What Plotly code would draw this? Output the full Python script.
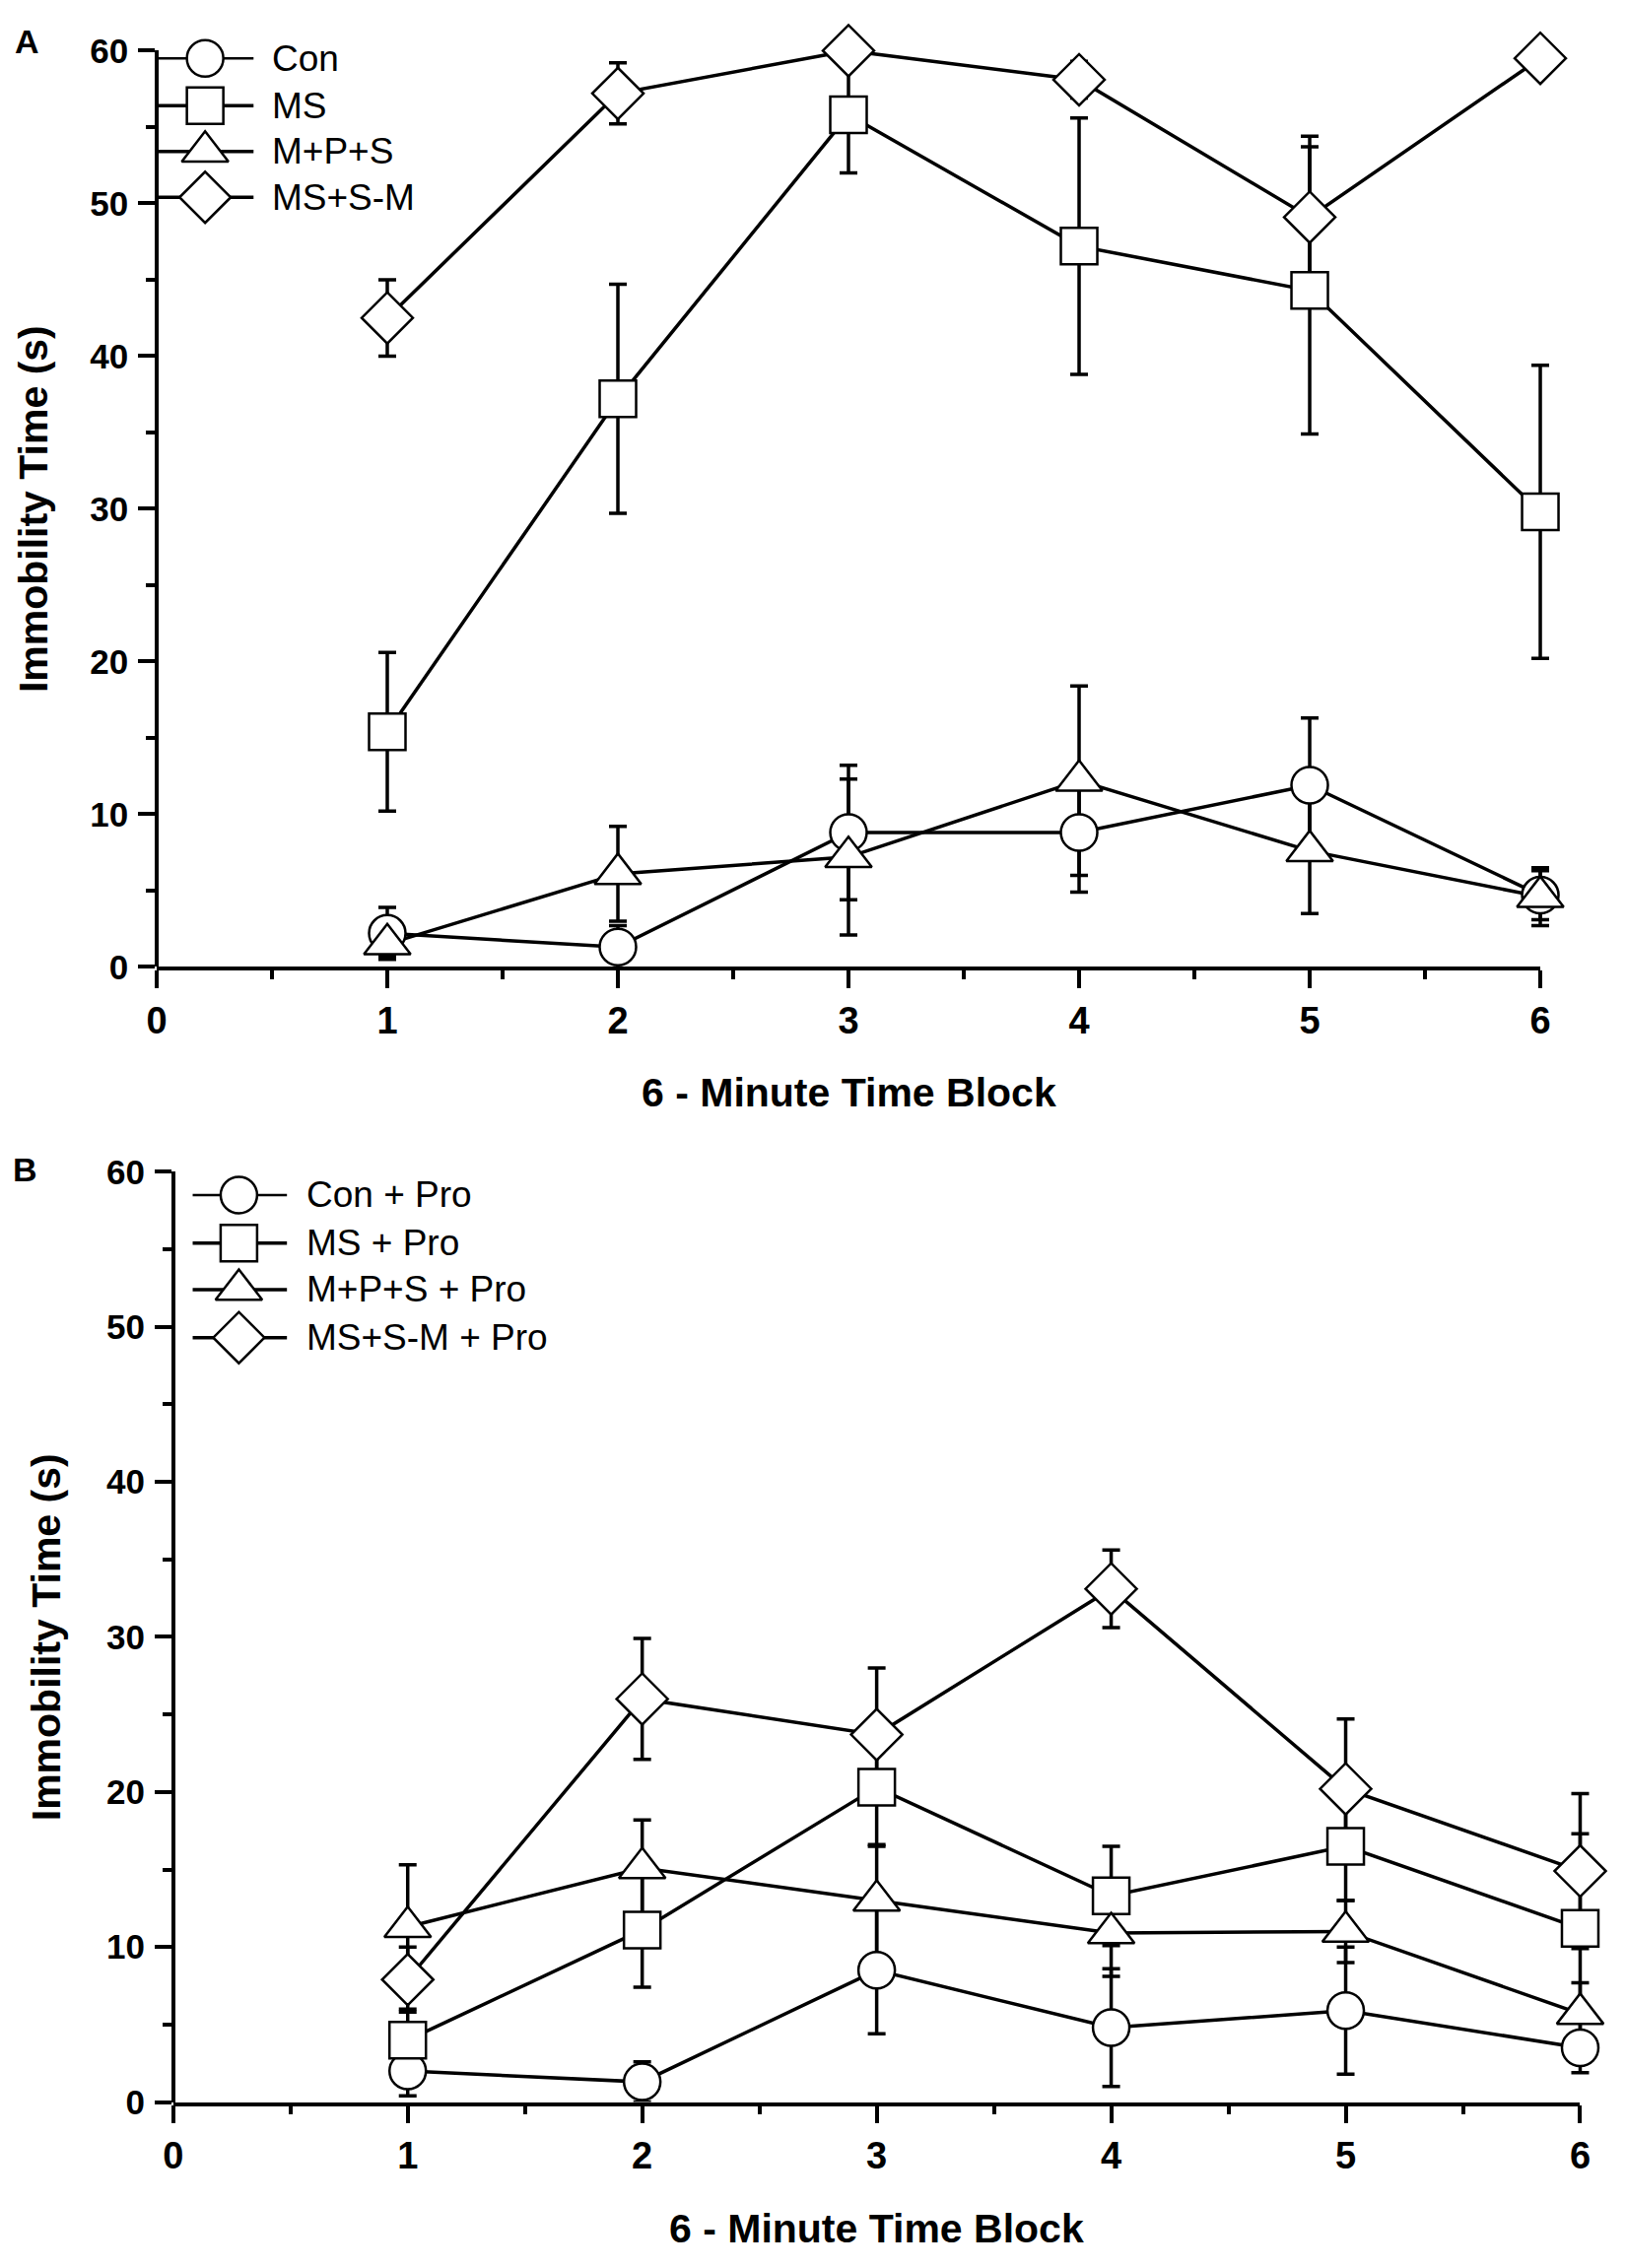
import plotly.graph_objects as go

blocks = [1, 2, 3, 4, 5, 6]

# panel A (no propranolol)
names_a = ["Con", "MS", "M+P+S", "MS+S-M"]
con_a = [2.2, 1.3, 8.8, 8.8, 11.9, 4.7]
con_a_err = [1.7, 1.4, 4.4, 3.9, 4.4, 1.6]
ms_a = [15.4, 37.2, 55.8, 47.2, 44.3, 29.8]
ms_a_err = [5.2, 7.5, 3.8, 8.4, 9.4, 9.6]
mps_a = [1.5, 6.1, 7.2, 12.2, 7.6, 4.6]
mps_a_err = [0.8, 3.1, 5.1, 6.2, 4.1, 1.9]
mssm_a = [42.5, 57.2, 60.0, 58.1, 49.1, 59.5]
mssm_a_err = [2.5, 2.0, 1.0, 1.2, 5.3, 1.0]

# panel B (+ Pro)
names_b = ["Con + Pro", "MS + Pro", "M+P+S + Pro", "MS+S-M + Pro"]
con_b = [2.0, 1.3, 8.5, 4.8, 5.9, 3.5]
con_b_err = [1.6, 1.3, 4.1, 3.8, 4.1, 1.6]
ms_b = [4.0, 11.1, 20.3, 13.3, 16.5, 11.2]
ms_b_err = [2.0, 3.7, 3.7, 3.2, 3.5, 6.1]
mps_b = [11.3, 15.1, 13.0, 10.9, 11.0, 5.7]
mps_b_err = [4.0, 3.1, 3.5, 2.8, 2.0, 2.0]
mssm_b = [7.9, 26.0, 23.7, 33.1, 20.2, 14.9]
mssm_b_err = [2.1, 3.9, 4.3, 2.5, 4.5, 5.0]

x_ticks = [0, 1, 2, 3, 4, 5, 6]
y_ticks = [0, 10, 20, 30, 40, 50, 60]

W, H = 1650, 2302
symbols = ["circle", "square", "triangle-up", "diamond"]
sizes = [37, 37, 41, 40]
LW = 3.5
MLW = 2.5
PAD = 30  # extra px around the data area so end error bars are not clipped
FONT = "Liberation Sans, Arial, sans-serif"

fig = go.Figure()


def px_x(p):
    return p / W


def px_y(p):
    return 1 - p / H


def add_panel(suffix, shown, names, means, errs, leg_rows, leg_line, leg_mark, leg_text):
    xa = "x" + suffix
    ya = "y" + suffix
    # empty trace so the drawn x axis gets rendered
    fig.add_trace(go.Scatter(x=[0, 6], y=[0, 0], mode="markers", xaxis=shown, yaxis=ya,
                             marker=dict(size=1, color="rgba(0,0,0,0)"),
                             showlegend=False, hoverinfo="skip"))
    # error bars at the bottom, then lines, then the open markers on top
    for m, e in zip(means, errs):
        fig.add_trace(go.Scatter(x=blocks, y=m, mode="markers", xaxis=xa, yaxis=ya,
                                 marker=dict(size=1, color="rgba(0,0,0,0)"),
                                 error_y=dict(type="data", array=e, visible=True,
                                              color="black", thickness=3.5, width=9),
                                 showlegend=False, hoverinfo="skip", cliponaxis=False))
    for m in means:
        fig.add_trace(go.Scatter(x=blocks, y=m, mode="lines", xaxis=xa, yaxis=ya,
                                 line=dict(color="black", width=LW),
                                 showlegend=False, hoverinfo="skip", cliponaxis=False))
    for name, m, sym, sz in zip(names, means, symbols, sizes):
        fig.add_trace(go.Scatter(x=blocks, y=m, mode="markers", xaxis=xa, yaxis=ya,
                                 name=name,
                                 marker=dict(symbol=sym, size=sz, color="white",
                                             line=dict(color="black", width=MLW)),
                                 showlegend=False, cliponaxis=False))
    # hand-made legend in the top-left corner
    for name, ry, sym, sz, wid in zip(names, leg_rows, symbols, sizes, [2.5, LW, LW, LW]):
        fig.add_trace(go.Scatter(x=list(leg_line), y=[ry, ry], mode="lines",
                                 xaxis=xa, yaxis=ya, line=dict(color="black", width=wid),
                                 showlegend=False, hoverinfo="skip", cliponaxis=False))
        fig.add_trace(go.Scatter(x=[leg_mark], y=[ry], mode="markers",
                                 xaxis=xa, yaxis=ya,
                                 marker=dict(symbol=sym, size=sz, color="white",
                                             line=dict(color="black", width=MLW)),
                                 showlegend=False, hoverinfo="skip", cliponaxis=False))
        fig.add_annotation(x=leg_text, y=ry, xref=xa, yref=ya, text=name,
                           showarrow=False, xanchor="left", yanchor="middle",
                           font=dict(family=FONT, size=37, color="black"))


add_panel("", "x3", names_a, [con_a, ms_a, mps_a, mssm_a],
          [con_a_err, ms_a_err, mps_a_err, mssm_a_err],
          [59.5, 56.4, 53.4, 50.4], (0.0, 0.42), 0.21, 0.49)
add_panel("2", "x4", names_b, [con_b, ms_b, mps_b, mssm_b],
          [con_b_err, ms_b_err, mps_b_err, mssm_b_err],
          [58.5, 55.4, 52.4, 49.3], (0.083, 0.485), 0.28, 0.56)

x_tick_font = dict(family=FONT, size=38, color="black", weight="bold")
y_tick_font = dict(family=FONT, size=35, color="black", weight="bold")
title_font = dict(family=FONT, size=41, color="black", weight="bold")


def data_x(left, right, anchor):
    # invisible x axis for the traces, a little wider than the drawn one
    pad = PAD * 6 / (right - left)
    return dict(domain=[px_x(left - PAD), px_x(right + PAD)], range=[-pad, 6 + pad],
                anchor=anchor, visible=False, showgrid=False, zeroline=False)


def shown_x(left, right, anchor):
    return dict(domain=[px_x(left), px_x(right)], anchor=anchor, range=[0, 6],
                tickvals=x_ticks,
                showline=True, linecolor="black", linewidth=3.5,
                ticks="outside", ticklen=18, tickwidth=3.5, tickcolor="black",
                minor=dict(dtick=0.5, tick0=0, ticks="outside", ticklen=9,
                           tickwidth=3.5, tickcolor="black"),
                tickfont=x_tick_font, ticklabelstandoff=0,
                showgrid=False, zeroline=False)


def y_axis(top, bottom, left):
    return dict(domain=[px_y(bottom), px_y(top)], anchor="free", position=px_x(left),
                range=[0, 60], tickvals=y_ticks,
                showline=True, linecolor="black", linewidth=3.5,
                ticks="outside", ticklen=17, tickwidth=3.5, tickcolor="black",
                minor=dict(dtick=5, tick0=0, ticks="outside", ticklen=9,
                           tickwidth=3.5, tickcolor="black"),
                tickfont=y_tick_font, ticklabelstandoff=3,
                showgrid=False, zeroline=False)


fig.update_layout(
    autosize=True,
    margin=dict(l=0, r=0, t=0, b=0),
    paper_bgcolor="white", plot_bgcolor="rgba(0,0,0,0)",
    xaxis=data_x(150, 1573, "y"),
    yaxis=y_axis(32, 978, 150),
    xaxis2=data_x(167, 1614, "y2"),
    yaxis2=y_axis(1189.5, 2150, 167),
    xaxis3=shown_x(150, 1573, "y"),
    xaxis4=shown_x(167, 1614, "y2"),
)

# axis titles and panel letters
for x, y, txt, ang in [
    ((150 + 1573) / 2, 1108, "6 - Minute Time Block", 0),
    (24, 505, "Immobility Time (s)", -90),
    ((167 + 1614) / 2, 2281, "6 - Minute Time Block", 0),
    (36, 1670, "Immobility Time (s)", -90),
]:
    fig.add_annotation(x=px_x(x), y=px_y(y), xref="paper", yref="paper", text=txt,
                       textangle=ang, showarrow=False, xanchor="center",
                       yanchor="middle", font=title_font)

for x, y, txt in [(17, 22, "A"), (15, 1187, "B")]:
    fig.add_annotation(x=px_x(x), y=px_y(y), xref="paper", yref="paper", text=txt,
                       showarrow=False, xanchor="center", yanchor="middle",
                       font=dict(family=FONT, size=34, color="black", weight="bold"))

fig.write_html("out.html", default_width="100vw", default_height="100vh",
               config={"displayModeBar": False},
               post_script="document.body.style.margin='0px';"
                           "document.body.style.overflow='hidden';"
                           "var d=document.querySelector('.plotly-graph-div');"
                           "d.style.position='fixed';d.style.top='0px';"
                           "d.style.left='0px';")
